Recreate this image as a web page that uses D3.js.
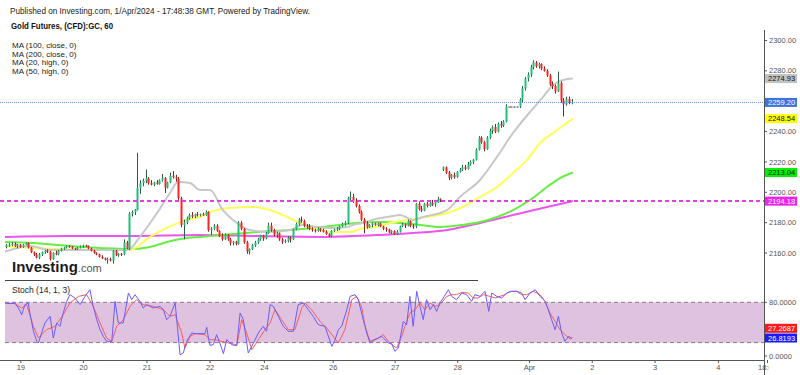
<!DOCTYPE html>
<html>
<head>
<meta charset="utf-8">
<script src="https://cdn.jsdelivr.net/npm/d3@7"></script>
<style>
  body { margin: 0; background: #fff; }
  svg { display: block; font-family: "Liberation Sans", Arial, sans-serif; }
</style>
</head>
<body>
<svg id="chart" width="800" height="375"></svg>
<script>
// hourly candles, Gold Futures (CFD):GC, 19 Mar - 1 Apr 2024
var opens = [2164,2165,2165.5,2166,2164.5,2165.5,2164,2165.5,2166.5,2163.5,2160.5,2159,2157,2159,2160.5,2161.5,2161,2156,2160,2159,
  2161.5,2163,2163.5,2164.5,2164,2163,2162.5,2163.5,2164.5,2165,2164.5,2163,2161.5,2160,2159,2157.5,2156.5,2155.5,2156,2155,
  2161.5,2158.5,2159.5,2159,2167,2163,2186,2187,2188.5,2203,2206,2207.5,2209,2206,2205,2206.5,2205.5,2208,2209.5,2203,
  2206.5,2211,2210,2209,2196,2178.5,2180,2183,2185,2184,2185.5,2185,2185.5,2185,2187,2175,2176,2178,2174.5,2171,
  2169,2172,2169,2166.5,2167.5,2166,2180,2176,2167,2161,2162.5,2165,2167,2169,2171.5,2169.5,2173,2178,2175,2172,
  2173,2169,2167.5,2168,2170,2169,2175.5,2179,2182,2181,2178,2177.5,2176,2175,2174.5,2176,2175,2174,2172.5,2171,
  2174.5,2175.5,2176,2177.5,2179,2180,2196,2197,2194.5,2191,2187,2182,2179.5,2177,2178.5,2179.5,2178.5,2179.5,2177.5,2176,
  2175.5,2173.5,2174.5,2172.5,2174,2177.5,2179,2178,2181,2178,2177.5,2192.5,2189,2188,2192.5,2191,2193,2192,2193.5,2195.5,
  2215,2216.5,2213,2209.5,2211.5,2210,2213.5,2215,2216.5,2215.5,2218.5,2220,2221.5,2228,2236,2233,2228.5,2236,2240.5,2243,
  2240,2245,2244,2246.5,2256.5,2256.5,2256.5,2256.5,2256.5,2261,2268.5,2275,2277.5,2282.5,2285.5,2283,2284.5,2281.5,2280,2277,
  2271,2270,2266.5,2272,2260.5,2258,2261.5,2259];
var highs = [2166,2166.5,2167,2167,2166,2166,2166,2167,2167,2164,2161,2160,2160,2161,2162,2162.5,2161.5,2160.5,2161.5,2162,
  2163.5,2164,2165,2165,2164.5,2163.5,2164,2165,2165.5,2165.5,2165,2163.5,2162,2160.5,2159.5,2158.5,2157,2157,2157,2162,
  2162,2160,2160,2169,2168,2187,2188,2189,2226,2208,2209,2215,2210,2208,2207,2208,2208.5,2212,2210,2207,
  2213,2214,2211.5,2210,2197,2182,2184,2186,2187,2186,2187,2186,2186.5,2188,2187.5,2177,2179,2179,2175,2173,
  2173,2172.5,2170,2168,2168,2181,2181,2176.5,2168,2163,2166,2168,2170,2172,2172,2174,2180,2180,2176,2174,
  2173.5,2170,2169,2171,2171,2176,2180,2183,2184,2182,2179,2179,2177,2176,2177,2176.5,2176,2175,2173,2175,
  2176,2177,2178,2180,2181,2197,2200.5,2199,2196,2192,2188,2183,2181,2179,2180,2180,2180,2180,2178,2177,
  2176,2175,2175,2175,2178,2180,2179.5,2182,2181.5,2179,2193,2194,2191,2193,2194,2193.5,2195,2194,2197,2196,
  2217,2217,2214,2212,2213,2214,2216,2218,2218,2220,2221,2222,2229,2237,2237,2234,2237,2242,2244,2245,
  2246,2247,2247.5,2258,2256.5,2256.5,2256.5,2256.5,2262,2270,2276,2279,2284,2287,2286.5,2285.5,2285,2283,2281,2278,
  2273,2271,2279.5,2273,2262,2263,2263,2261.5];
var lows = [2163,2164,2164.5,2164,2163,2163.5,2163.5,2165,2163,2160,2158,2156.5,2156,2158,2159.5,2160,2155,2155.5,2158.5,2158.5,
  2161,2162,2163,2163.5,2162.5,2162,2162,2163,2163.5,2164,2162.5,2161,2159.5,2158.5,2157,2156,2155,2153,2154.5,2153,
  2158,2157.5,2158,2158.5,2162.5,2162,2184,2185,2188,2199,2204,2206,2205,2204.5,2204,2205,2205,2207,2199.5,2202.5,
  2206,2209,2207,2195,2177,2169,2179,2182,2183,2183,2184,2184,2184.5,2184.5,2174,2172,2175,2174,2170.5,2168,
  2168.5,2168,2165,2165,2165,2165.5,2175,2166,2159.5,2159,2162,2164,2166,2168,2168,2169,2172.5,2174,2171,2170,
  2168,2166,2166.5,2167,2167,2168.5,2175,2178,2180,2177,2176,2175,2174,2173.5,2174,2174,2173.5,2172,2170.5,2170.5,
  2174,2174.5,2175,2177,2178,2179,2194,2193,2190,2186,2181,2173,2176,2176.5,2177,2178,2177.5,2177,2175,2174,
  2173,2172.5,2172,2172,2173.5,2177,2176.5,2177.5,2177,2176,2176.5,2188,2187,2187.5,2190,2190.5,2191,2190.5,2193,2193.5,
  2214,2212,2208,2208.5,2209,2209.5,2213,2214,2214.5,2215,2217.5,2218.5,2221,2227.5,2232,2227,2228,2235,2238.5,2239,
  2239.5,2242.5,2243,2246,2256.5,2256.5,2256.5,2256.5,2255.5,2259,2267,2273,2276,2281,2282,2281.5,2280.5,2279.5,2276,2270,
  2268,2265,2266,2259,2250,2257,2258,2258];
var closes = [2165,2165.5,2166,2164.5,2165.5,2164,2165.5,2166.5,2163.5,2160.5,2159,2157,2159,2160.5,2161.5,2161,2156,2160,2159,2161.5,
  2163,2163.5,2164.5,2164,2163,2162.5,2163.5,2164.5,2165,2164.5,2163,2161.5,2160,2159,2157.5,2156.5,2155.5,2156,2155,2161.5,
  2158.5,2159.5,2159,2167,2163,2186,2187,2188.5,2203,2206,2207.5,2209,2206,2205,2206.5,2205.5,2208,2209.5,2203,2206.5,
  2211,2210,2209,2196,2178.5,2180,2183,2185,2184,2185.5,2185,2185.5,2185,2187,2175,2176,2178,2174.5,2171,2169,
  2172,2169,2166.5,2167.5,2166,2180,2176,2167,2161,2162.5,2165,2167,2169,2171.5,2169.5,2173,2178,2175,2172,2173,
  2169,2167.5,2168,2170,2169,2175.5,2179,2182,2181,2178,2177.5,2176,2175,2174.5,2176,2175,2174,2172.5,2171,2174.5,
  2175.5,2176,2177.5,2179,2180,2196,2197,2194.5,2191,2187,2182,2179.5,2177,2178.5,2179.5,2178.5,2179.5,2177.5,2176,2175.5,
  2173.5,2174.5,2172.5,2174,2177.5,2179,2178,2181,2178,2177.5,2192.5,2189,2188,2192.5,2191,2193,2192,2193.5,2195.5,2195,
  2216.5,2213,2209.5,2211.5,2210,2213.5,2215,2216.5,2215.5,2218.5,2220,2221.5,2228,2236,2233,2228.5,2236,2240.5,2243,2240,
  2245,2244,2246.5,2256.5,2256.5,2256.5,2256.5,2256.5,2261,2268.5,2275,2277.5,2282.5,2285.5,2283,2284.5,2281.5,2280,2277,2271,
  2270,2266.5,2272,2260.5,2258,2261.5,2259,2259.2];

// moving averages: [bar, price]
var ma20 = [[-0.5,2160.9],[8.6,2164.6],[16,2162],[22.2,2162],[37.9,2162],[44.5,2162],[48.9,2170.6],[55.2,2186.4],[59.9,2199.5],
  [62.9,2206.8],[67.3,2206.1],[70.9,2201.5],[74.6,2201.5],[79.3,2188.3],[83,2181.8],[89.2,2175.2],[96.5,2173.8],[103.9,2175.2],
  [108.6,2178.5],[113.8,2177.1],[118.5,2176.5],[124.7,2177.1],[126.9,2178.5],[130.6,2179.8],[135.7,2182.5],[140.5,2184],
  [144.2,2185],[148.9,2181.8],[152.6,2183.7],[161.4,2188.3],[166.1,2196.9],[173.5,2208.1],[179.7,2223.3],[185.6,2239.1],
  [191.8,2252.9],[196.6,2262.8],[200.2,2270.7],[203.9,2274],[207.5,2274.9]];
var ma50 = [[-0.5,2164.6],[9.7,2163.3],[22.2,2162.5],[34.3,2162],[45.3,2162],[52.6,2170.6],[58.8,2176.5],[66.1,2181.8],
  [70.9,2183.7],[74.6,2187],[81.9,2189.7],[90.3,2190.3],[96.5,2188.3],[102.8,2183.7],[107.5,2179.8],[112.3,2176.5],
  [118.5,2173.8],[125.9,2173.8],[130.6,2176.5],[135.7,2177.1],[140.5,2179.8],[146.7,2181.8],[151.5,2183.1],[161.4,2186.4],
  [167.2,2190.3],[173.5,2196.9],[179.7,2203.5],[185.6,2212.7],[190.7,2221.3],[195.5,2232.5],[200.2,2239.1],[205.3,2245.7],
  [207.5,2248.5]];
var ma100 = [[-0.5,2167.3],[9.7,2166.6],[22.2,2164.7],[34.3,2163.3],[44.5,2162.5],[52.6,2164],[58.8,2167.3],[66.1,2169.9],
  [70.9,2170.6],[79.3,2171.9],[91.8,2173.8],[103.9,2175.2],[115.9,2177.1],[128.4,2179.8],[136.8,2180.4],[144.2,2179.8],
  [151.5,2178.5],[158.8,2177.1],[167.2,2178.5],[173.5,2180.4],[179.7,2183.7],[185.6,2188.3],[191.8,2194.9],[198,2203.5],
  [202.8,2209.4],[207.5,2213]];
var ma200 = [[-0.5,2170.6],[22.2,2171.2],[44.5,2171.2],[70.9,2171.9],[91.8,2171.2],[115.9,2170.6],[136.8,2171.9],
  [148.9,2173.2],[161.4,2175.2],[173.5,2179.8],[185.6,2185],[198,2190.3],[207.5,2194.2]];

// Stoch (14, 1, 3): [bar, value]
var stochK = [[-0.5,79],[1.3,78],[3.1,79],[4.4,71.5],[5.6,61.6],[6.8,76.5],[8,79],[8.6,64],[9.9,36.8],[11.1,21.9],[11.7,19.4],
  [12.9,34.3],[14.1,49.2],[16,59.1],[17.2,26.8],[18.4,49.2],[19.6,44.2],[20.8,64],[22.1,81.5],[23.3,91.4],[25.1,86.4],[27,76.5],
  [28.8,88.9],[30.6,98.8],[31.8,74],[33.1,54.1],[34.3,39.2],[35.5,29.3],[36.7,21.9],[38.6,21.9],[39.8,81.5],[41,49.2],[42.8,49.2],
  [44.7,93.9],[45.9,83.9],[47.1,91.4],[48.9,81.5],[50.1,71.5],[51.4,76.5],[53.8,71.5],[56.3,74],[57.5,69],[58.7,54.1],[59.9,59.1],
  [61.8,79],[62.4,54.1],[63.6,1.9],[64.8,4.5],[66,21.9],[67.9,34.3],[69.1,33.3],[72.7,33.3],[73.4,42.8],[74,26.8],[74.6,15.9],
  [75.8,16.9],[77,31.8],[78.2,19.4],[79.5,3.5],[80.7,24.3],[82.5,16.9],[84.4,15.4],[85.6,64.1],[86.8,54.1],[88.6,4.5],[90.5,19.4],
  [92.3,34.3],[94.1,44.2],[95.3,36.8],[96.6,76.5],[97.8,74],[99.6,59.1],[101.4,44.2],[103.3,36.8],[105.1,36.8],[106.9,76.5],
  [108.8,79],[110.6,69],[112.4,59.1],[114.2,46.7],[116.7,44.2],[119.2,14.4],[120.4,24.3],[121.6,39.2],[122.8,44.2],[124.7,69],
  [125.9,88.9],[127.7,91.4],[128.9,83.9],[130.1,64.1],[132,34.3],[133.2,19.4],[135,24.3],[137.5,29.3],[139.9,19.4],[141.2,18],
  [142.3,7],[143.6,11.9],[145.4,51.6],[146.6,46.7],[147.8,88.9],[149,44.2],[150.3,96.4],[151.5,74],[152.7,54.1],[153.9,83.9],
  [155.2,69],[156.4,76.5],[157.6,66.6],[158.8,79],[160,86.4],[161.9,98.8],[163.1,88.9],[164.9,83.9],[166.8,93.9],[168.6,91.4],
  [170.4,81.5],[171.6,91.4],[173.5,88.9],[175.3,96.4],[176.7,66.6],[177.8,93.9],[179.6,88.9],[181.4,86.4],[183.3,93.9],
  [185.1,96.4],[186.9,96.4],[188.7,93.9],[190,83.9],[191.8,93.9],[193.7,98.8],[195.5,88.9],[197.3,81.5],[198.5,69],[199.7,54.1],
  [201,39.2],[202.2,59.1],[203.4,34.3],[204.6,21.9],[205.9,29.3],[207.1,26.8]];
var stochD = [[-0.5,79],[3.1,78],[5.6,71.5],[7.4,76.5],[9.9,44.2],[11.7,26.8],[14.7,39.2],[17.8,44.2],[20.8,61.6],[23.3,79],
  [26.4,88.9],[29.4,91.4],[31.8,74],[34.3,49.2],[36.7,26.8],[38.6,21.9],[40.4,44.2],[42.8,54.1],[45.3,74],[47.7,83.9],[50.1,76.5],
  [53.8,74],[57.5,69],[59.9,59.1],[61.8,61.6],[64.2,34.3],[65.4,11.9],[67.3,29.3],[69.1,33.3],[72.7,31.8],[74.6,24.3],[76.4,24.3],
  [78.9,21.9],[81.3,19.4],[84.4,16.9],[86.2,54.1],[88,34.3],[89.9,9.4],[92.3,24.3],[94.7,39.2],[96.6,49.2],[98.4,69],[100.8,54.1],
  [103.3,39.2],[105.7,39.2],[108.2,71.5],[109.4,79],[111.8,69],[114.9,51.6],[117.3,41.7],[119.7,29.3],[121.6,19.4],[124,39.2],
  [126.5,83.9],[128.3,88.9],[130.1,74],[131.4,44.2],[133.2,21.9],[136.2,26.8],[138.1,31.8],[139.9,21.9],[141.5,16],[143,11.9],
  [144.8,29.3],[146,44.2],[147.8,64.1],[149.7,69],[151.5,79],[153.3,69],[155.2,79],[157,74],[158.8,76.5],[161.3,88.9],[163.1,91.4],
  [164.9,91.4],[166.8,94.9],[169.2,93.9],[171,86.4],[172.8,86.4],[174.7,91.4],[177.1,88.9],[179,86.4],[180.8,88.9],[182.6,91.4],
  [184.5,96.4],[186.9,96.4],[188.7,91.4],[190.6,91.4],[193,96.4],[195.5,91.4],[197.3,81.5],[199.1,64.1],[201,51.6],[202.8,39.2],
  [204.6,31.8],[206.5,25.3],[207.4,27.3]];

var priceTicks = [2160, 2180, 2200, 2220, 2240, 2260, 2280, 2300];
var stochTicks = [0, 80];
var dateLabels = ["19", "20", "21", "22", "24", "26", "27", "28", "Apr", "2", "3", "4", "18:00"];
var dateBars = [5.3, 28.2, 51.5, 74.6, 94.5, 119.7, 142.4, 165.3, 191.6, 214.6, 237.6, 260.8, 278.8];
var lastPrice = 2259.20, hLine = 2194.18;
var lastK = 26.8193, lastD = 27.2687;
var maLabels = ["MA (100, close, 0)", "MA (200, close, 0)", "MA (20, high, 0)", "MA (50, high, 0)"];

var svg = d3.select("#chart");
var axisX = 764;

var x = d3.scaleLinear().domain([0, 207]).range([6.4, 571.5]);
var y = d3.scaleLinear().domain([2160, 2300]).range([253, 40.5]);
var ys = d3.scaleLinear().domain([0, 100]).range([356, 288.9]);

var candles = d3.range(closes.length).map(function(i) {
  return {i: i, o: opens[i], h: highs[i], l: lows[i], c: closes[i]};
});

// header
svg.append("text").attr("x", 10).attr("y", 14).attr("font-size", 9).attr("fill", "#222")
  .attr("textLength", 300).attr("lengthAdjust", "spacingAndGlyphs")
  .text("Published on Investing.com, 1/Apr/2024 - 17:48:38 GMT, Powered by TradingView.");
svg.append("text").attr("x", 11).attr("y", 29).attr("font-size", 9).attr("font-weight", "bold").attr("fill", "#111")
  .attr("textLength", 102).attr("lengthAdjust", "spacingAndGlyphs")
  .text("Gold Futures, (CFD):GC, 60");
svg.append("g").selectAll("text").data(maLabels).enter().append("text")
  .attr("x", 12).attr("y", function(d, i) { return 48 + i * 8.5; })
  .attr("font-size", 8).attr("fill", "#222")
  .text(function(d) { return d; });

// stoch pane
var sp = svg.append("g");
sp.append("rect").attr("x", 5).attr("width", axisX - 5)
  .attr("y", ys(80)).attr("height", ys(20) - ys(80)).attr("fill", "#dfc2e0");
sp.selectAll(".band").data([80, 20]).enter().append("line")
  .attr("x1", 5).attr("x2", axisX).attr("y1", function(d) { return ys(d); }).attr("y2", function(d) { return ys(d); })
  .attr("stroke", "#8a7a8c").attr("stroke-dasharray", "4,3");
var sline = d3.line().x(function(d) { return x(d[0]); }).y(function(d) { return ys(d[1]); });
sp.append("path").attr("d", sline(stochD)).attr("fill", "none").attr("stroke", "#ff5c5c").attr("stroke-width", 1);
sp.append("path").attr("d", sline(stochK)).attr("fill", "none").attr("stroke", "#6a5cff").attr("stroke-width", 1);
sp.append("text").attr("x", 12).attr("y", 293).attr("font-size", 8.5).attr("fill", "#222").text("Stoch (14, 1, 3)");

// separator under the price pane
svg.append("line").attr("x1", 5).attr("x2", 478).attr("y1", 280.5).attr("y2", 280.5).attr("stroke", "#444");

// logo
var logo = svg.append("text").attr("x", 12).attr("y", 272);
logo.append("tspan").attr("font-size", 15).attr("font-weight", "bold").attr("fill", "#1b1b1b").text("Investing");
logo.append("tspan").attr("font-size", 11).attr("fill", "#555").text(".com");

// moving averages
var mline = d3.line().curve(d3.curveMonotoneX)
  .x(function(d) { return x(d[0]); }).y(function(d) { return y(d[1]); });
var mas = [[ma200, "#ee55ee"], [ma100, "#66ee44"], [ma50, "#ffff55"], [ma20, "#c8c8c8"]];
svg.append("g").selectAll("path").data(mas).enter().append("path")
  .attr("d", function(d) { return mline(d[0]); })
  .attr("fill", "none").attr("stroke", function(d) { return d[1]; }).attr("stroke-width", 2);

// candles
var cg = svg.append("g").selectAll("g").data(candles).enter().append("g");
cg.append("line")
  .attr("x1", function(d) { return Math.round(x(d.i)) + 0.5; })
  .attr("x2", function(d) { return Math.round(x(d.i)) + 0.5; })
  .attr("y1", function(d) { return y(d.h); })
  .attr("y2", function(d) { return y(d.l); })
  .attr("stroke", function(d) { return d.c >= d.o ? "#2f5e44" : "#6a2a2a"; });
cg.append("rect")
  .attr("x", function(d) { return Math.round(x(d.i)) - 0.5; })
  .attr("width", 2)
  .attr("y", function(d) { return y(Math.max(d.o, d.c)); })
  .attr("height", function(d) { return Math.max(1, Math.abs(y(d.o) - y(d.c))); })
  .attr("fill", function(d) {
    if (d.c == d.o) return "#333";
    return d.c > d.o ? "#22c07a" : "#ff2424";
  });

// horizontal lines
svg.append("line").attr("x1", 0).attr("x2", axisX).attr("y1", y(lastPrice)).attr("y2", y(lastPrice))
  .attr("stroke", "#6d8ee6").attr("stroke-dasharray", "1,1");
svg.append("line").attr("x1", 0).attr("x2", axisX).attr("y1", y(hLine)).attr("y2", y(hLine))
  .attr("stroke", "#e23ee2").attr("stroke-width", 2).attr("stroke-dasharray", "4,3");

// right axis
svg.append("line").attr("x1", axisX + 0.5).attr("x2", axisX + 0.5).attr("y1", 30).attr("y2", 375).attr("stroke", "#555");
var pt = svg.append("g").selectAll("g").data(priceTicks).enter().append("g")
  .attr("transform", function(d) { return "translate(" + axisX + "," + y(d) + ")"; });
pt.append("line").attr("x2", 3).attr("stroke", "#555");
pt.append("text").attr("x", 5).attr("dy", "0.35em").attr("font-size", 7.5).attr("fill", "#555")
  .text(function(d) { return d3.format(".2f")(d); });
var st = svg.append("g").selectAll("g").data(stochTicks).enter().append("g")
  .attr("transform", function(d) { return "translate(" + axisX + "," + ys(d) + ")"; });
st.append("line").attr("x2", 3).attr("stroke", "#555");
st.append("text").attr("x", 5).attr("dy", "0.35em").attr("font-size", 7.5).attr("fill", "#555")
  .text(function(d) { return d3.format(".4f")(d); });

// value boxes on the axis
var boxes = [
  {y: y(2274.93), t: "2274.93", bg: "#c2c2c2", fg: "#111"},
  {y: y(lastPrice), t: "2259.20", bg: "#3f73dc", fg: "#fff"},
  {y: y(2248.54), t: "2248.54", bg: "#ffff00", fg: "#111"},
  {y: y(2213.04), t: "2213.04", bg: "#00f000", fg: "#111"},
  {y: y(hLine), t: "2194.18", bg: "#ee22ee", fg: "#fff"},
  {y: ys(lastD) - 9.4, t: "27.2687", bg: "#ff1a1a", fg: "#fff"},
  {y: ys(lastK), t: "26.8193", bg: "#1a1aff", fg: "#fff"}
];
var bx = svg.append("g").selectAll("g").data(boxes).enter().append("g")
  .attr("transform", function(d) { return "translate(" + axisX + "," + d.y + ")"; });
bx.append("rect").attr("x", 1).attr("y", -4.5).attr("width", 32).attr("height", 9)
  .attr("fill", function(d) { return d.bg; });
bx.append("text").attr("x", 4).attr("dy", "0.35em").attr("font-size", 7.5)
  .attr("fill", function(d) { return d.fg; }).text(function(d) { return d.t; });

// time axis
svg.append("line").attr("x1", 0).attr("x2", axisX).attr("y1", 360.5).attr("y2", 360.5).attr("stroke", "#555");
svg.append("clipPath").attr("id", "dclip").append("rect").attr("x", 0).attr("y", 355).attr("width", 769).attr("height", 20);
var dt = svg.append("g").attr("clip-path", "url(#dclip)").selectAll("g").data(dateLabels).enter().append("g")
  .attr("transform", function(d, i) { return "translate(" + x(dateBars[i]) + ",360)"; });
dt.append("line").attr("y1", 0).attr("y2", 3).attr("stroke", "#555");
dt.append("text").attr("y", 10).attr("text-anchor", "middle").attr("font-size", 7.5).attr("fill", "#555")
  .text(function(d) { return d; });
</script>
</body>
</html>
